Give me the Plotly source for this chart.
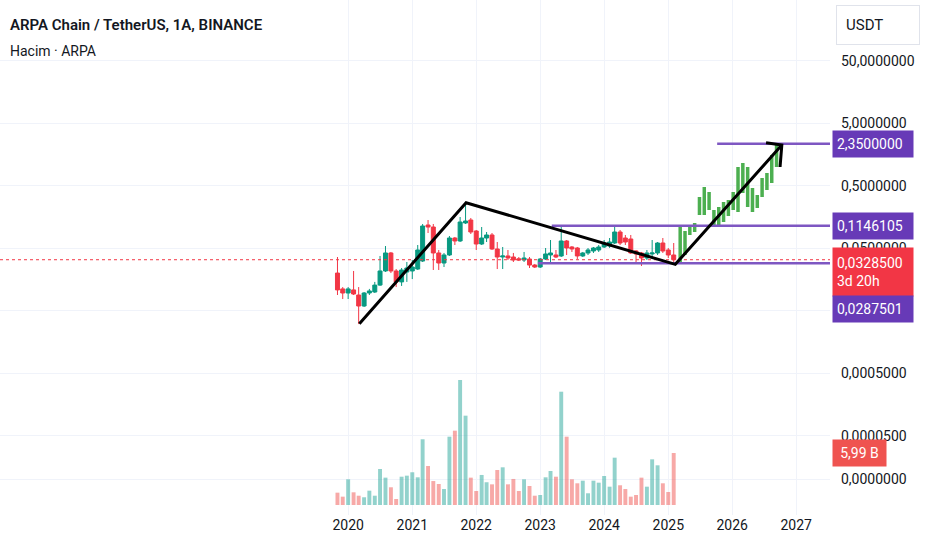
import numpy as np
import pandas as pd
import plotly.graph_objects as go

# ARPA/USDT monthly candles, Nov 2019 - Feb 2025
months = pd.date_range("2019-11-01", periods=64, freq="MS")

opens = [0.0201, 0.0112, 0.00964, 0.0108, 0.00895, 0.00597, 0.00964, 0.0100, 0.0129, 0.0217,
         0.0421, 0.0217, 0.0145, 0.0209, 0.0217, 0.0233, 0.0313, 0.1180, 0.1096, 0.0421,
         0.0291, 0.0391, 0.0731, 0.0655, 0.1271, 0.1419, 0.0946, 0.0586, 0.0731, 0.0817,
         0.0488, 0.0363, 0.0377, 0.0363, 0.0340, 0.0325, 0.0337, 0.0270, 0.0251, 0.0337,
         0.0391, 0.0391, 0.0377, 0.0655, 0.0525, 0.0506, 0.0377, 0.0421, 0.0453, 0.0470,
         0.0525, 0.0544, 0.0608, 0.0912, 0.0731, 0.0705, 0.0453, 0.0421, 0.0350, 0.0406,
         0.0421, 0.0608, 0.0470, 0.0391]
highs = [0.0363, 0.0120, 0.0120, 0.0217, 0.0120, 0.0100, 0.0112, 0.0145, 0.0377, 0.0544,
         0.0437, 0.0233, 0.0242, 0.0302, 0.0325, 0.0565, 0.1225, 0.1419, 0.1225, 0.0470,
         0.0421, 0.0787, 0.0759, 0.1585, 0.2655, 0.1528, 0.0982, 0.1096, 0.0912, 0.0879,
         0.0631, 0.0525, 0.0470, 0.0421, 0.0363, 0.0437, 0.0363, 0.0281, 0.0350, 0.0506,
         0.0679, 0.0470, 0.1146, 0.0679, 0.0544, 0.0525, 0.0437, 0.0506, 0.0525, 0.0565,
         0.0679, 0.0731, 0.1150, 0.0982, 0.0817, 0.0817, 0.0470, 0.0437, 0.0470, 0.0679,
         0.0631, 0.0731, 0.0506, 0.0608]
lows = [0.00895, 0.00772, 0.00772, 0.00895, 0.00307, 0.00575, 0.00895, 0.00964, 0.0125, 0.0209,
        0.0201, 0.0120, 0.0125, 0.0145, 0.0161, 0.0225, 0.0302, 0.0879, 0.0225, 0.0225,
        0.0251, 0.0377, 0.0565, 0.0631, 0.1225, 0.0847, 0.0470, 0.0565, 0.0631, 0.0470,
        0.0233, 0.0233, 0.0325, 0.0302, 0.0313, 0.0302, 0.0242, 0.0242, 0.0242, 0.0325,
        0.0291, 0.0350, 0.0363, 0.0391, 0.0437, 0.0337, 0.0363, 0.0391, 0.0421, 0.0437,
        0.0506, 0.0506, 0.0586, 0.0565, 0.0565, 0.0406, 0.0302, 0.0261, 0.0325, 0.0350,
        0.0391, 0.0421, 0.0350, 0.02875]
closes = [0.0108, 0.00964, 0.0112, 0.00929, 0.00597, 0.00964, 0.0104, 0.0129, 0.0217, 0.0421,
          0.0217, 0.0145, 0.0225, 0.0242, 0.0251, 0.0470, 0.1137, 0.1096, 0.0421, 0.0291,
          0.0391, 0.0731, 0.0655, 0.1318, 0.1368, 0.0912, 0.0586, 0.0731, 0.0817, 0.0488,
          0.0363, 0.0377, 0.0350, 0.0325, 0.0325, 0.0350, 0.0270, 0.0251, 0.0337, 0.0406,
          0.0421, 0.0363, 0.0655, 0.0506, 0.0488, 0.0377, 0.0421, 0.0470, 0.0506, 0.0525,
          0.0608, 0.0631, 0.0912, 0.0608, 0.0631, 0.0421, 0.0406, 0.0350, 0.0421, 0.0421,
          0.0608, 0.0453, 0.0391, 0.03285]

# volume, billions of ARPA
volume_b = [1.42, 0.96, 2.96, 1.46, 1.07, 0.89, 1.65, 1.07, 4.15, 3.15,
            2.04, 0.69, 3.26, 3.38, 3.77, 3.19, 7.57, 4.49, 2.76, 2.42,
            1.84, 7.87, 8.56, 14.40, 10.29, 3.15, 1.61, 3.46, 2.62, 2.38,
            4.03, 4.34, 2.38, 3.00, 1.61, 2.96, 2.19, 1.07, 1.15, 3.19,
            3.92, 3.26, 13.05, 7.87, 2.96, 2.50, 2.80, 1.35, 2.80, 2.57,
            3.34, 2.11, 5.45, 2.27, 1.84, 0.96, 1.15, 3.15, 2.11, 5.26,
            4.57, 2.50, 1.50, 5.99]

# projected "bars pattern" drawn after the last candle
proj_dates = pd.date_range("2025-03-10", periods=21, freq="660h")
proj_low = [0.0291, 0.0391, 0.0817, 0.0912, 0.1706, 0.1706, 0.2051, 0.1180, 0.1137, 0.1318,
            0.1644, 0.2051, 0.1905, 0.3837, 0.2291, 0.1905, 0.2208, 0.3311, 0.4285, 0.5546, 1.000]
proj_high = [0.1096, 0.0946, 0.1137, 0.1271, 0.3311, 0.4786, 0.3981, 0.2051, 0.2291, 0.2754,
             0.2965, 0.3981, 1.000, 1.159, 1.000, 0.4613, 0.3565, 0.6668, 0.8017, 1.556, 2.249]

# drawings
trend_dates = ["2020-03-05", "2021-11-04", "2025-02-10", "2026-10-11"]
trend_prices = [0.0031, 0.2685, 0.0277, 2.25]
head_dates = ["2026-07-13", "2026-10-11", "2026-10-01"]
head_prices = [2.448, 2.25, 1.0]
level_prices = [2.35, 0.1146105, 0.0287501]
level_starts = ["2025-10-07", "2023-03-08", "2022-12-20"]
last_price = 0.03285

x_range = ["2014-07-24", "2027-07-13"]
year_ticks = [f"{y}-01-01" for y in range(2020, 2028)]
year_labels = [str(y) for y in range(2020, 2028)]
price_ticks = [50, 5, 0.5, 0.05, 0.005, 0.0005, 0.00005, 0.00001]
# the 0,005 label sits behind the price tags, so it is left blank
price_labels = ["50,0000000", "5,0000000", "0,5000000", "0,0500000", "",
                "0,0005000", "0,0000500", "0,0000000"]

UP = "#089981"
DOWN = "#f23645"
PURPLE = "#7e57c2"
TXT = "#131722"
FONT = "Roboto"

fig = go.Figure()

vol_colors = ["rgba(38,166,154,0.5)" if c >= o else "rgba(239,83,80,0.5)"
              for o, c in zip(opens, closes)]
fig.add_trace(go.Bar(x=months, y=volume_b, marker_color=vol_colors,
                     marker_line_width=0, yaxis="y2", hoverinfo="skip"))

fig.add_trace(go.Candlestick(
    x=months, open=opens, high=highs, low=lows, close=closes,
    increasing=dict(line=dict(color=UP, width=1), fillcolor=UP),
    decreasing=dict(line=dict(color=DOWN, width=1), fillcolor=DOWN),
))

# projected bars as thick vertical strokes
px_, py_ = [], []
for d, lo, hi in zip(proj_dates, proj_low, proj_high):
    px_ += [d, d, None]
    py_ += [lo, hi, None]
fig.add_trace(go.Scatter(x=px_, y=py_, mode="lines",
                         line=dict(color="#4caf50", width=3.5), hoverinfo="skip"))

# current price dotted line
fig.add_trace(go.Scatter(x=x_range, y=[last_price, last_price], mode="lines",
                         line=dict(color=DOWN, width=1, dash="dot"), hoverinfo="skip"))

# horizontal rays
for start, p in zip(level_starts, level_prices):
    fig.add_trace(go.Scatter(x=[start, x_range[1]], y=[p, p], mode="lines",
                             line=dict(color=PURPLE, width=2.5), hoverinfo="skip"))

# trend path with arrow head
fig.add_trace(go.Scatter(x=trend_dates, y=trend_prices, mode="lines",
                         line=dict(color="black", width=3), hoverinfo="skip"))
fig.add_trace(go.Scatter(x=head_dates, y=head_prices, mode="lines",
                         line=dict(color="black", width=3), hoverinfo="skip"))

# header text
fig.add_annotation(text="ARPA Chain / TetherUS, 1A, BINANCE", xref="paper", yref="paper",
                   x=0, y=1, xanchor="left", yanchor="top", xshift=8, yshift=-14,
                   showarrow=False, font=dict(family=FONT, size=15, color=TXT, weight=600))
fig.add_annotation(text="Hacim · ARPA", xref="paper", yref="paper",
                   x=0, y=1, xanchor="left", yanchor="top", xshift=8, yshift=-41,
                   showarrow=False, font=dict(family=FONT, size=14, color=TXT))
fig.add_annotation(text="USDT", xref="paper", yref="paper", x=1, y=1,
                   xanchor="left", yanchor="top", xshift=6, yshift=-5,
                   showarrow=False, align="left", width=64, height=20, borderpad=9,
                   bgcolor="white", bordercolor="#e0e3eb", borderwidth=1,
                   font=dict(family=FONT, size=15, color=TXT))

# price tags on the right axis
tags = [
    ("2,3500000", level_prices[0], PURPLE, 18, 0),
    ("0,1146105", level_prices[1], PURPLE, 18, 0),
    ("0,0328500<br>3d 20h", last_price, DOWN, 40, -12),
    ("0,0287501", level_prices[2], PURPLE, 18, -46),
]
for text, p, col, h, shift in tags:
    fig.add_annotation(text=text, xref="paper", yref="y", x=1, y=np.log10(p),
                       xanchor="left", yanchor="middle", xshift=2, yshift=shift,
                       showarrow=False, align="left", width=72, height=h, borderpad=4,
                       bgcolor="#673ab7" if col == PURPLE else col,
                       font=dict(family=FONT, size=14, color="white"))
fig.add_annotation(text="5,99 B", xref="paper", yref="y2", x=1, y=volume_b[-1],
                   xanchor="left", yanchor="middle", xshift=2, showarrow=False,
                   width=45, height=18, borderpad=4, bgcolor="#ef5350",
                   font=dict(family=FONT, size=14, color="white"))

fig.update_layout(
    width=932, height=550,
    margin=dict(l=0, r=102, t=0, b=35),
    plot_bgcolor="white", paper_bgcolor="white",
    showlegend=False,
    boxgap=0.1, boxgroupgap=0.1, bargap=0.2,
    xaxis=dict(type="date", range=x_range, tickvals=year_ticks, ticktext=year_labels,
               showgrid=True, gridcolor="#f0f3fa", zeroline=False, showline=False,
               ticks="", rangeslider=dict(visible=False),
               tickfont=dict(family=FONT, size=14, color=TXT)),
    yaxis=dict(type="log", side="right", range=[-5.568, 2.672],
               tickvals=price_ticks, ticktext=price_labels,
               showgrid=True, gridcolor="#f0f3fa", zeroline=False, showline=False,
               ticks="", ticklabelstandoff=10,
               tickfont=dict(family=FONT, size=14, color=TXT)),
    yaxis2=dict(overlaying="y", range=[-1.152, 58.17], visible=False),
)

fig.write_html("out.html", config={"displayModeBar": False},
               post_script="document.body.style.margin='0';")
